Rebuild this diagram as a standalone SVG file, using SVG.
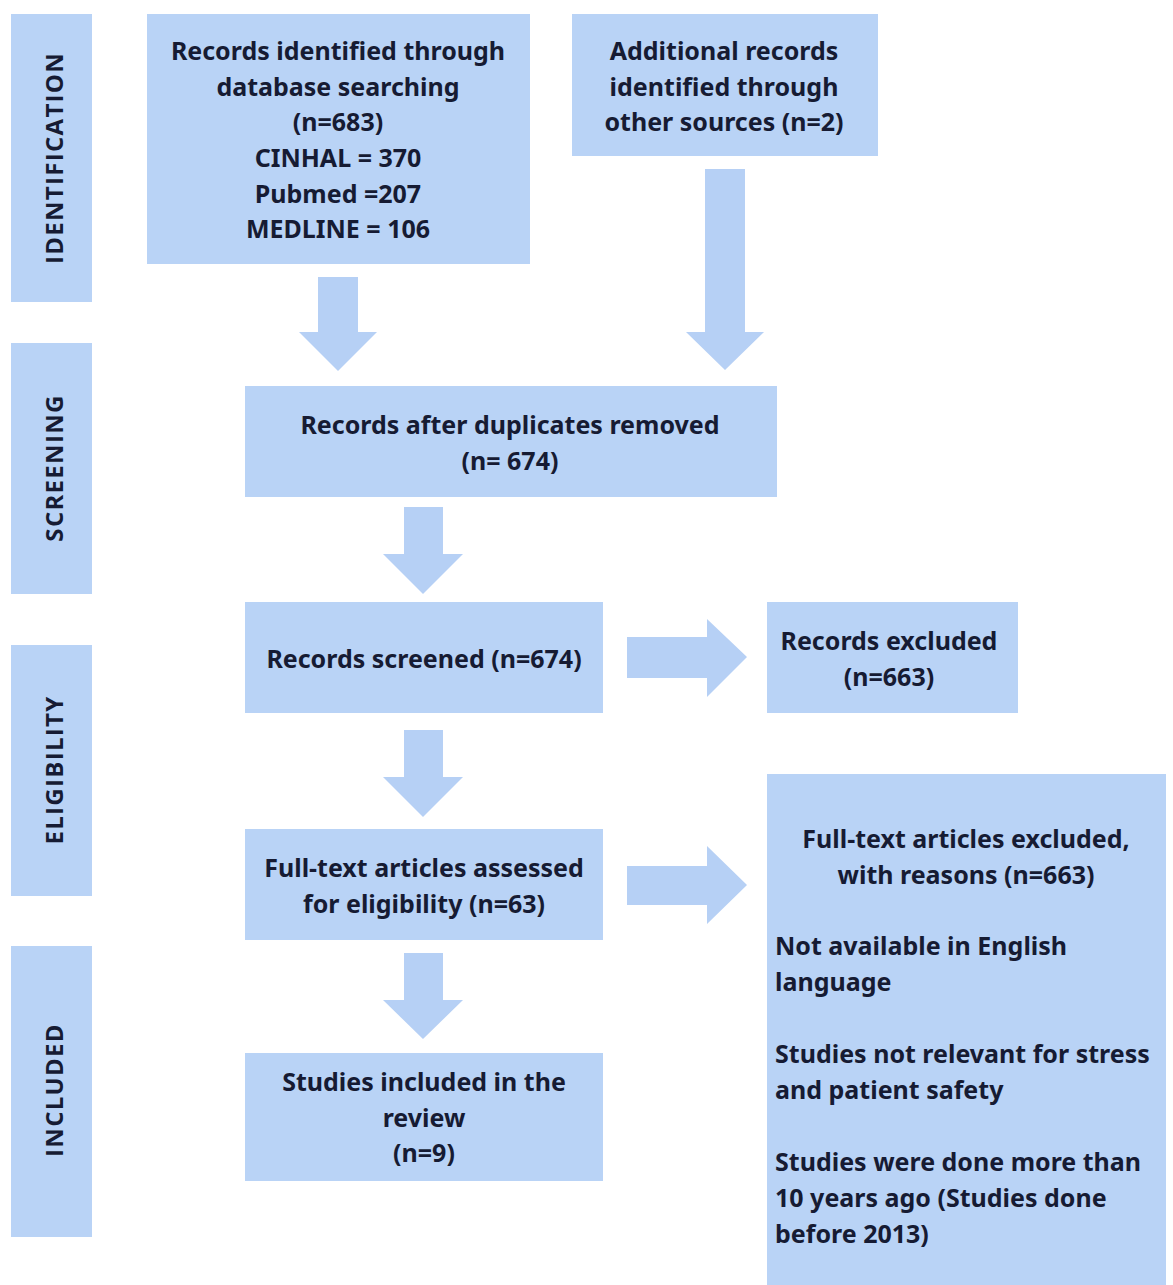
<svg xmlns="http://www.w3.org/2000/svg" width="1173" height="1285" viewBox="0 0 1173 1285">
<style>
.box{fill:#b9d3f6}
.arr{fill:#b6d0f5}
.t{font-family:"Noto Sans","Open Sans","Liberation Sans",sans-serif;font-weight:700;font-size:25px;fill:#161b33;text-anchor:middle}
.l{text-anchor:start}
.side{font-family:"Open Sans","Noto Sans","Liberation Sans",sans-serif;font-weight:700;font-size:24px;letter-spacing:1.3px;fill:#161b33;text-anchor:middle}
</style>
<rect width="1173" height="1285" fill="#ffffff"/>
<g id="stage-identification"><rect class="box" x="11" y="14" width="81" height="288"/><text class="side" transform="translate(63,158) rotate(-90)">IDENTIFICATION</text></g>
<g id="stage-screening"><rect class="box" x="11" y="343" width="81" height="251"/><text class="side" transform="translate(63,468) rotate(-90)">SCREENING</text></g>
<g id="stage-eligibility"><rect class="box" x="11" y="645" width="81" height="251"/><text class="side" transform="translate(63,770) rotate(-90)">ELIGIBILITY</text></g>
<g id="stage-included"><rect class="box" x="11" y="946" width="81" height="291"/><text class="side" transform="translate(63,1090) rotate(-90)">INCLUDED</text></g>

<g id="connectors">
<polygon class="arr" points="318,277 358,277 358,332 377,332 338,371 299,332 318,332"/>
<polygon class="arr" points="705,169 745,169 745,332 764,332 725,370 686,332 705,332"/>
<polygon class="arr" points="404,507 443,507 443,554 463,554 423,594 383,554 404,554"/>
<polygon class="arr" points="627,637 707,637 707,619 747,657 707,697 707,678 627,678"/>
<polygon class="arr" points="404,730 443,730 443,777 463,777 423,817 383,777 404,777"/>
<polygon class="arr" points="627,866 707,866 707,846 747,885 707,924 707,905 627,905"/>
<polygon class="arr" points="404,953 443,953 443,1000 463,1000 423,1039 383,1000 404,1000"/>
</g>

<g id="node-database">
<rect class="box" x="147" y="14" width="383" height="250"/>
<text class="t" x="338" y="60">Records identified through</text>
<text class="t" x="338" y="96">database searching</text>
<text class="t" x="338" y="131">(n=683)</text>
<text class="t" x="338" y="167">CINHAL = 370</text>
<text class="t" x="338" y="203">Pubmed =207</text>
<text class="t" x="338" y="238">MEDLINE = 106</text>
</g>
<g id="node-other">
<rect class="box" x="572" y="14" width="306" height="142"/>
<text class="t" x="724" y="60">Additional records</text>
<text class="t" x="724" y="96">identified through</text>
<text class="t" x="724" y="131">other sources (n=2)</text>
</g>
<g id="node-duplicates">
<rect class="box" x="245" y="386" width="532" height="111"/>
<text class="t" x="510" y="434">Records after duplicates removed</text>
<text class="t" x="510" y="470">(n= 674)</text>
</g>
<g id="node-screened">
<rect class="box" x="245" y="602" width="358" height="111"/>
<text class="t" x="424" y="668">Records screened (n=674)</text>
</g>
<g id="node-excluded">
<rect class="box" x="767" y="602" width="251" height="111"/>
<text class="t" x="889" y="650">Records excluded</text>
<text class="t" x="889" y="686">(n=663)</text>
</g>
<g id="node-fulltext">
<rect class="box" x="245" y="829" width="358" height="111"/>
<text class="t" x="424" y="877">Full-text articles assessed</text>
<text class="t" x="424" y="913">for eligibility (n=63)</text>
</g>
<g id="node-fulltext-excluded">
<rect class="box" x="767" y="774" width="399" height="511"/>
<text class="t" x="966" y="848">Full-text articles excluded,</text>
<text class="t" x="966" y="884">with reasons (n=663)</text>
<text class="t l" x="775" y="955">Not available in English</text>
<text class="t l" x="775" y="991">language</text>
<text class="t l" x="775" y="1063">Studies not relevant for stress</text>
<text class="t l" x="775" y="1099">and patient safety</text>
<text class="t l" x="775" y="1171">Studies were done more than</text>
<text class="t l" x="775" y="1207">10 years ago (Studies done</text>
<text class="t l" x="775" y="1243">before 2013)</text>
</g>
<g id="node-included">
<rect class="box" x="245" y="1053" width="358" height="128"/>
<text class="t" x="424" y="1091">Studies included in the</text>
<text class="t" x="424" y="1127">review</text>
<text class="t" x="424" y="1162">(n=9)</text>
</g>
</svg>
